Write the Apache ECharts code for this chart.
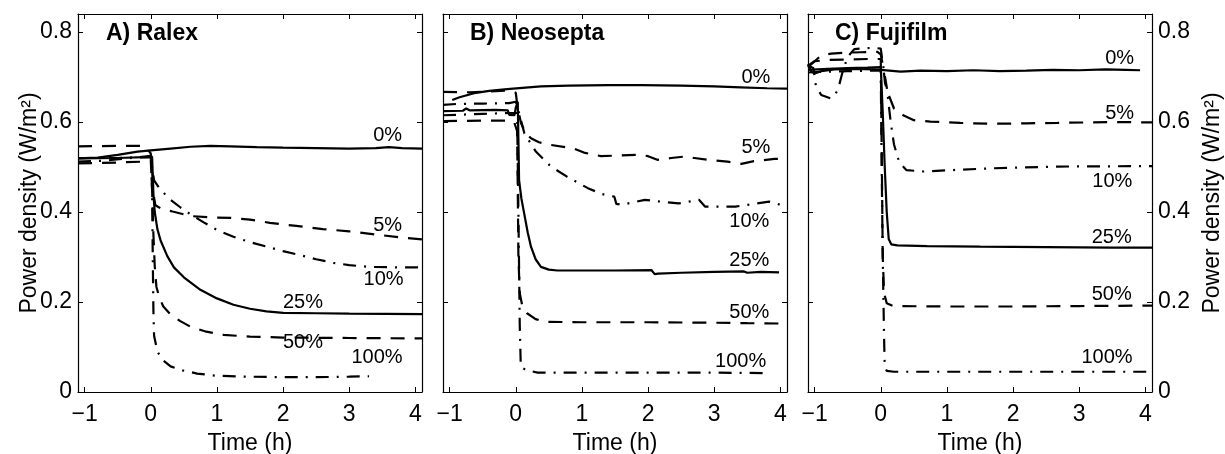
<!DOCTYPE html>
<html>
<head>
<meta charset="utf-8">
<script src="https://cdn.jsdelivr.net/npm/echarts@6/dist/echarts.min.js"></script>
<style>
html,body{margin:0;padding:0;background:#fff;}
#chart{width:1225px;height:454px;}
</style>
</head>
<body>
<div id="chart"></div>
<script>
// ---------------- data ----------------
const seriesNames = ['0%', '5%', '10%', '25%', '50%', '100%'];
const panelTitles = ['A) Ralex', 'B) Neosepta', 'C) Fujifilm'];
const xTicks = [-1, 0, 1, 2, 3, 4];
const yTicks = [0, 0.2, 0.4, 0.6, 0.8];

// A) Ralex  [time (h), power density (W/m2)]
const ralex0 = [[-1.1,0.519],[-0.8,0.521],[-0.5,0.527],[-0.2,0.534],[0,0.537],[0.3,0.541],[0.6,0.545],[0.9,0.547],[1.2,0.546],[1.6,0.544],[2.0,0.543],[2.5,0.542],[3.0,0.541],[3.4,0.542],[3.6,0.544],[3.8,0.542],[4.1,0.541]];
const ralex5 = [[-1.1,0.546],[-0.5,0.547],[-0.1,0.547],[-0.05,0.54],[0,0.53],[0.02,0.50],[0.04,0.44],[0.07,0.415],[0.15,0.408],[0.33,0.401],[0.6,0.391],[0.9,0.388],[1.2,0.387],[1.5,0.383],[1.8,0.376],[2.2,0.369],[2.6,0.362],[3.0,0.357],[3.4,0.35],[3.8,0.343],[4.1,0.339]];
const ralex10 = [[-1.1,0.512],[-0.7,0.514],[-0.3,0.52],[0,0.525],[0.02,0.5],[0.05,0.47],[0.15,0.449],[0.3,0.427],[0.45,0.41],[0.6,0.395],[0.8,0.377],[1.0,0.36],[1.25,0.345],[1.5,0.333],[1.75,0.323],[2.0,0.313],[2.26,0.304],[2.5,0.295],[2.76,0.287],[3.0,0.282],[3.3,0.278],[3.7,0.277],[4.1,0.277]];
const ralex25 = [[-1.1,0.519],[-0.5,0.52],[-0.1,0.522],[0.02,0.523],[0.03,0.48],[0.04,0.44],[0.06,0.40],[0.1,0.362],[0.15,0.336],[0.25,0.302],[0.35,0.277],[0.5,0.255],[0.75,0.227],[1.0,0.208],[1.25,0.194],[1.5,0.185],[1.75,0.179],[2.0,0.176],[2.5,0.175],[3.0,0.174],[4.1,0.173]];
const ralex50 = [[-1.1,0.508],[-0.5,0.51],[-0.1,0.512],[0,0.515],[0.02,0.45],[0.04,0.35],[0.06,0.28],[0.085,0.234],[0.13,0.21],[0.19,0.19],[0.3,0.172],[0.44,0.158],[0.6,0.145],[0.84,0.134],[1.1,0.127],[1.5,0.123],[2.0,0.121],[3.0,0.12],[4.1,0.119]];
const ralex100 = [[-1.1,0.52],[-0.5,0.52],[0,0.522],[0.02,0.45],[0.03,0.3],[0.04,0.18],[0.05,0.125],[0.1,0.09],[0.18,0.071],[0.3,0.057],[0.48,0.048],[0.7,0.041],[1.0,0.036],[1.5,0.034],[2.0,0.033],[2.5,0.033],[3.0,0.034],[3.3,0.035]];

// B) Neosepta
const neo0 = [[-0.96,0.649],[-0.85,0.655],[-0.63,0.664],[-0.4,0.669],[-0.13,0.673],[0.1,0.676],[0.38,0.679],[0.8,0.681],[1.4,0.682],[1.9,0.682],[2.5,0.681],[3.0,0.679],[3.4,0.677],[3.8,0.675],[4.1,0.674]];
const neo5 = [[-1.1,0.667],[-0.7,0.666],[-0.4,0.668],[-0.1,0.67],[0,0.665],[0.03,0.63],[0.08,0.597],[0.15,0.575],[0.23,0.564],[0.35,0.555],[0.53,0.549],[0.88,0.541],[1.03,0.532],[1.29,0.524],[1.6,0.526],[1.89,0.527],[2.0,0.524],[2.14,0.516],[2.35,0.52],[2.54,0.523],[2.7,0.52],[2.9,0.516],[3.2,0.512],[3.41,0.507],[3.6,0.513],[3.91,0.518],[4.05,0.518]];
const neo10 = [[-1.1,0.638],[-0.9,0.64],[-0.5,0.641],[-0.1,0.642],[0,0.645],[0.05,0.62],[0.13,0.575],[0.3,0.535],[0.53,0.501],[0.78,0.478],[1.09,0.453],[1.3,0.44],[1.49,0.434],[1.52,0.418],[1.6,0.416],[1.95,0.427],[2.2,0.423],[2.46,0.419],[2.77,0.427],[2.86,0.412],[3.32,0.412],[3.6,0.418],[3.83,0.423],[4.1,0.412]];
const neo25 = [[-1.1,0.624],[-0.8,0.625],[-0.75,0.63],[-0.7,0.626],[-0.3,0.627],[-0.12,0.626],[-0.1,0.616],[-0.02,0.615],[0,0.632],[0.03,0.645],[0.04,0.56],[0.05,0.471],[0.085,0.43],[0.127,0.397],[0.18,0.355],[0.23,0.323],[0.3,0.295],[0.38,0.278],[0.5,0.272],[0.63,0.27],[1.0,0.27],[1.5,0.27],[2.05,0.271],[2.1,0.262],[2.15,0.263],[2.5,0.265],[3.0,0.267],[3.45,0.268],[3.5,0.265],[3.7,0.267],[3.98,0.266]];
const neo50 = [[-1.1,0.602],[-0.5,0.603],[-0.1,0.603],[-0.02,0.598],[0.02,0.58],[0.03,0.45],[0.04,0.3],[0.06,0.22],[0.1,0.19],[0.17,0.175],[0.3,0.162],[0.43,0.156],[1.0,0.155],[2.0,0.155],[3.0,0.154],[3.5,0.153],[4.1,0.152]];
const neo100 = [[-1.1,0.615],[-0.5,0.618],[-0.1,0.62],[0.02,0.62],[0.04,0.4],[0.06,0.15],[0.076,0.056],[0.15,0.049],[0.33,0.043],[1.0,0.043],[2.0,0.043],[3.0,0.043],[3.79,0.042]];

// C) Fujifilm
const fuji0 = [[-1.1,0.728],[-1.05,0.712],[-1.0,0.708],[-0.9,0.713],[-0.7,0.717],[-0.4,0.718],[-0.1,0.717],[0,0.716],[0.3,0.712],[0.6,0.714],[1.0,0.713],[1.4,0.715],[1.8,0.713],[2.2,0.714],[2.6,0.716],[3.0,0.715],[3.4,0.717],[3.7,0.716],[3.92,0.715]];
const fuji5 = [[-1.1,0.725],[-1.0,0.735],[-0.9,0.748],[-0.75,0.752],[-0.55,0.754],[-0.3,0.755],[-0.05,0.756],[0,0.75],[0.04,0.72],[0.065,0.686],[0.12,0.66],[0.2,0.63],[0.34,0.615],[0.5,0.604],[0.75,0.601],[1.2,0.598],[1.66,0.596],[2.2,0.597],[2.67,0.598],[3.5,0.6],[4.1,0.599]];
const fuji10 = [[-1.1,0.725],[-1.02,0.72],[-0.98,0.68],[-0.9,0.66],[-0.75,0.652],[-0.65,0.67],[-0.58,0.71],[-0.5,0.745],[-0.4,0.762],[-0.12,0.765],[0,0.763],[0.03,0.73],[0.09,0.678],[0.15,0.6],[0.2,0.55],[0.28,0.51],[0.39,0.493],[0.65,0.49],[1.2,0.494],[1.66,0.497],[2.67,0.501],[4.1,0.502]];
const fuji25 = [[-1.1,0.716],[-0.8,0.718],[-0.5,0.72],[-0.2,0.721],[0,0.722],[0.03,0.62],[0.06,0.5],[0.09,0.4],[0.12,0.34],[0.16,0.328],[0.25,0.326],[0.7,0.324],[1.5,0.323],[2.5,0.322],[3.5,0.321],[4.1,0.321]];
const fuji50 = [[-1.1,0.722],[-1.0,0.735],[-0.8,0.738],[-0.5,0.739],[-0.2,0.74],[0,0.74],[0.01,0.6],[0.02,0.45],[0.03,0.3],[0.05,0.22],[0.09,0.197],[0.19,0.191],[1.0,0.19],[2.0,0.19],[3.0,0.191],[4.1,0.192]];
const fuji100 = [[-1.1,0.71],[-0.8,0.712],[-0.5,0.713],[-0.2,0.714],[0,0.714],[0.01,0.55],[0.03,0.3],[0.05,0.12],[0.06,0.056],[0.09,0.047],[0.2,0.045],[1.0,0.045],[2.0,0.045],[3.0,0.045],[4.1,0.045]];

// curve label anchor positions (data coordinates)
const ralexLabelT = [3.58, 3.58, 3.52, 2.30, 2.30, 3.42];
const ralexLabelV = [0.571, 0.371, 0.249, 0.200, 0.111, 0.076];
const neoLabelT = [3.63, 3.63, 3.53, 3.53, 3.53, 3.40];
const neoLabelV = [0.700, 0.544, 0.378, 0.293, 0.176, 0.067];
const fujiLabelT = [3.61, 3.61, 3.50, 3.49, 3.49, 3.42];
const fujiLabelV = [0.742, 0.620, 0.467, 0.344, 0.216, 0.076];

// ---------------- chart ----------------
const FONT = '"Liberation Sans", Arial, Helvetica, sans-serif';
const panels = [
  {data: [ralex0, ralex5, ralex10, ralex25, ralex50, ralex100], lt: ralexLabelT, lv: ralexLabelV},
  {data: [neo0, neo5, neo10, neo25, neo50, neo100], lt: neoLabelT, lv: neoLabelV},
  {data: [fuji0, fuji5, fuji10, fuji25, fuji50, fuji100], lt: fujiLabelT, lv: fujiLabelV}
];
const styles = ['solid', [14, 10], [13, 8, 2, 8], 'solid', [14, 10], [13, 8, 2, 8]];
const gridLefts = [78, 443, 808];
const titleLefts = [106, 470, 835];

const fmtX = v => (v < 0 ? '\u2212' + Math.abs(v) : String(v));
const fmtY = v => (v === 0 ? '0' : v.toFixed(1));

const grid = [], xAxis = [], yAxis = [], series = [], title = [];
panels.forEach((p, i) => {
  grid.push({left: gridLefts[i], top: 14, width: 344, height: 378, show: false,
    outerBoundsMode: 'none', containLabel: false});
  title.push({text: panelTitles[i], left: titleLefts[i], top: 22, padding: 0,
    textStyle: {fontFamily: FONT, fontSize: 23, fontWeight: 'bold', color: '#000'}});
  const axCommon = {
    type: 'value', min: -1.1, max: 4.1, gridIndex: i,
    splitLine: {show: false},
    axisLine: {show: true, onZero: false, lineStyle: {color: '#000', width: 1.2}},
    axisTick: {show: true, inside: true, length: 5, customValues: xTicks, lineStyle: {color: '#000'}}
  };
  xAxis.push(Object.assign({}, axCommon, {
    position: 'bottom',
    name: 'Time (h)', nameLocation: 'middle', nameGap: 40, nameMoveOverlap: false,
    nameTextStyle: {fontFamily: FONT, fontSize: 23, color: '#000'},
    axisLabel: {show: true, customValues: xTicks, formatter: fmtX, margin: 11,
      fontFamily: FONT, fontSize: 23, color: '#000'}
  }));
  xAxis.push(Object.assign({}, axCommon, {position: 'top', axisLabel: {show: false}}));
  const yCommon = {
    type: 'value', min: 0, max: 0.84, gridIndex: i,
    splitLine: {show: false},
    axisLine: {show: true, onZero: false, lineStyle: {color: '#000', width: 1.2}},
    axisTick: {show: true, inside: true, length: 5, customValues: yTicks, lineStyle: {color: '#000'}}
  };
  const labelSide = (i === 2) ? 'right' : 'left';
  const otherSide = (i === 2) ? 'left' : 'right';
  const showLabels = (i === 0 || i === 2);
  yAxis.push(Object.assign({}, yCommon, {
    position: labelSide,
    name: showLabels ? 'Power density (W/m\u00B2)' : '',
    nameLocation: 'middle', nameGap: (i === 2) ? 49 : 37, nameRotate: 90, nameMoveOverlap: false,
    nameTextStyle: {fontFamily: FONT, fontSize: 23, color: '#000'},
    axisLabel: {show: showLabels, customValues: yTicks, formatter: fmtY, margin: 6,
      fontFamily: FONT, fontSize: 23, color: '#000'}
  }));
  yAxis.push(Object.assign({}, yCommon, {position: otherSide, axisLabel: {show: false}}));

  p.data.forEach((d, k) => {
    series.push({
      type: 'line', xAxisIndex: 2 * i, yAxisIndex: 2 * i, data: d,
      symbol: 'none', silent: true, clip: true,
      lineStyle: {color: '#000', width: 2.2, type: styles[k]}
    });
  });
  series.push({
    type: 'scatter', xAxisIndex: 2 * i, yAxisIndex: 2 * i, silent: true,
    symbolSize: 1, itemStyle: {color: 'rgba(0,0,0,0)', opacity: 1},
    data: p.lt.map((t, k) => [t, p.lv[k]]),
    label: {show: true, position: 'inside', formatter: q => seriesNames[q.dataIndex],
      fontFamily: FONT, fontSize: 20, color: '#000', opacity: 1}
  });
});

const chart = echarts.init(document.getElementById('chart'), null, {renderer: 'canvas'});
chart.setOption({animation: false, backgroundColor: '#fff', title, grid, xAxis, yAxis, series});
</script>
</body>
</html>
